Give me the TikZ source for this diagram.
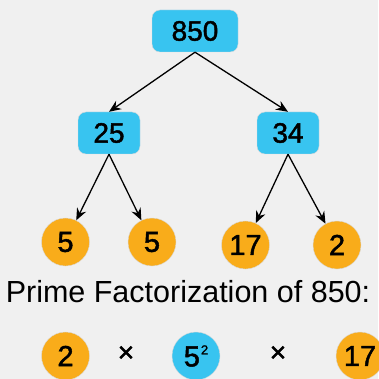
\documentclass[tikz,border=0pt]{standalone}
\usepackage{fontspec}
\setmainfont{Liberation Sans}
\newfontfamily\digfont[FakeBold=1.6]{Liberation Sans}
\usetikzlibrary{arrows.meta}
\definecolor{bg}{RGB}{240,240,240}
\definecolor{sky}{RGB}{56,196,240}
\definecolor{amber}{RGB}{249,172,26}
\tikzset{
  box/.style={draw=black!15, line width=0.4pt, fill=sky, rounded corners=8pt, minimum width=62pt, minimum height=42pt, inner sep=0pt, font=\digfont\fontsize{28}{28}\selectfont},
  topbox/.style={box, minimum width=86pt},
  ball/.style={circle, draw=black!15, line width=0.4pt, fill=amber, minimum size=48pt, inner sep=0pt, font=\digfont\fontsize{29}{29}\selectfont},
  blueball/.style={ball, fill=sky},
  edge/.style={-{Stealth[length=12pt,width=10pt,inset=4pt]}, line width=1.3pt, black},
  times/.style={font=\digfont\fontsize{28}{28}\selectfont, inner sep=0pt}
}
\begin{document}
\begin{tikzpicture}[x=1pt,y=-1pt]
\fill[bg] (0,0) rectangle (378,379);
\useasboundingbox (0,0) rectangle (378,379);
\node[topbox] (n850) at (195,31) {850};
\node[box] (n25) at (109,133) {25};
\node[box] (n34) at (288,133) {34};
\node[ball] (a5) at (65.5,242) {5};
\node[ball] (b5) at (152,242) {5};
\node[ball] (c17) at (245.5,245) {17};
\node[ball] (d2) at (337,245) {2};
\draw[edge] (n850.south) -- (n25.north);
\draw[edge] (n850.south) -- (n34.north);
\draw[edge] (n25.south) -- (a5);
\draw[edge] (n25.south) -- (b5);
\draw[edge] (n34.south) -- (c17);
\draw[edge] (n34.south) -- (d2);
\node[anchor=base, inner sep=0pt, font=\fontsize{30.5}{30.5}\selectfont] (title) at (188,302) {Prime Factorization of 850:};
\node[ball] (p2) at (65.5,356) {2};
\node[times] (x1) at (126,354) {×};
\node[blueball] (p5) at (196,356) {5\kern1pt\raisebox{12pt}{\fontsize{13}{13}\selectfont 2}};
\node[times] (x2) at (278,354) {×};
\node[ball] (p17) at (360,356) {17};
\end{tikzpicture}
\end{document}
